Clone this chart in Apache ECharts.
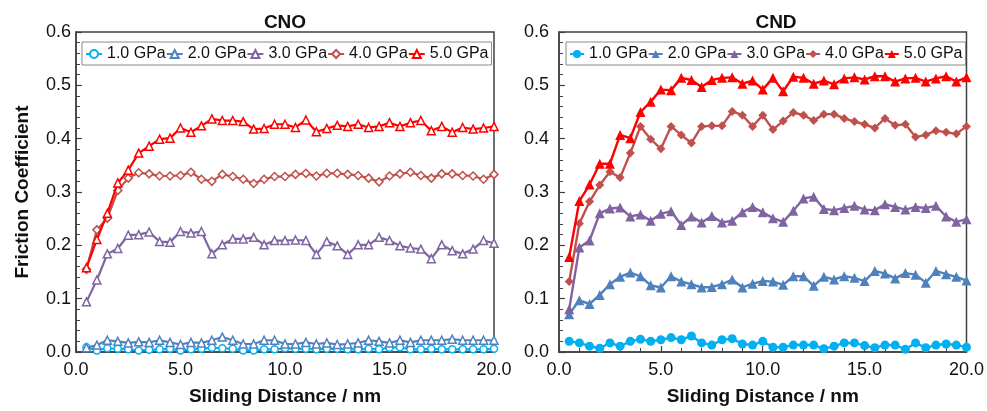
<!DOCTYPE html>
<html>
<head>
<meta charset="utf-8">
<script src="https://cdn.jsdelivr.net/npm/echarts@6/dist/echarts.min.js"></script>
<style>
  html, body { margin: 0; padding: 0; background: #fff; }
  #chart { width: 987px; height: 411px; }
</style>
</head>
<body>
<div id="chart"></div>
<script>
// Sliding distance (nm): 0.5 nm steps up to 20 nm
const distance = [0.5,1.0,1.5,2.0,2.5,3.0,3.5,4.0,4.5,5.0,5.5,6.0,6.5,7.0,7.5,8.0,8.5,9.0,9.5,10.0,
                  10.5,11.0,11.5,12.0,12.5,13.0,13.5,14.0,14.5,15.0,15.5,16.0,16.5,17.0,17.5,18.0,18.5,19.0,19.5,20.0];

const pressures = ['1.0 GPa', '2.0 GPa', '3.0 GPa', '4.0 GPa', '5.0 GPa'];

// Friction coefficient, CNO
const cno_1 = [0.009,0.003,0.007,0.006,0.005,0.003,0.004,0.005,0.006,0.003,0.005,0.006,0.008,0.007,0.006,0.003,0.003,0.005,0.005,0.007,
               0.006,0.006,0.005,0.006,0.006,0.005,0.005,0.006,0.005,0.008,0.009,0.005,0.005,0.006,0.005,0.005,0.005,0.005,0.005,0.006];
const cno_2 = [0.008,0.013,0.022,0.020,0.017,0.019,0.018,0.022,0.018,0.014,0.018,0.017,0.022,0.028,0.022,0.015,0.015,0.022,0.022,0.015,
               0.015,0.018,0.015,0.017,0.014,0.015,0.017,0.022,0.020,0.017,0.022,0.018,0.022,0.022,0.022,0.024,0.022,0.022,0.022,0.022];
const cno_3 = [0.094,0.135,0.184,0.194,0.219,0.220,0.225,0.207,0.206,0.226,0.223,0.226,0.184,0.201,0.212,0.212,0.215,0.201,0.209,0.209,
               0.210,0.209,0.183,0.207,0.199,0.183,0.201,0.201,0.215,0.209,0.199,0.195,0.193,0.175,0.201,0.190,0.184,0.193,0.209,0.204];
const cno_4 = [0.155,0.229,0.251,0.303,0.326,0.336,0.334,0.330,0.330,0.331,0.337,0.324,0.320,0.333,0.329,0.324,0.316,0.324,0.329,0.329,
               0.333,0.335,0.330,0.335,0.335,0.333,0.331,0.326,0.319,0.330,0.334,0.337,0.331,0.326,0.334,0.334,0.331,0.330,0.324,0.333];
const cno_5 = [0.158,0.211,0.260,0.317,0.341,0.373,0.386,0.399,0.401,0.420,0.412,0.424,0.437,0.434,0.434,0.432,0.418,0.419,0.427,0.427,
               0.421,0.435,0.413,0.419,0.425,0.423,0.427,0.421,0.423,0.430,0.423,0.430,0.434,0.415,0.423,0.412,0.421,0.418,0.420,0.423];

// Friction coefficient, CND
const cnd_1 = [0.020,0.017,0.011,0.007,0.017,0.011,0.020,0.024,0.020,0.023,0.027,0.023,0.030,0.017,0.013,0.023,0.025,0.015,0.013,0.020,
               0.009,0.009,0.013,0.013,0.013,0.006,0.011,0.017,0.017,0.012,0.008,0.013,0.013,0.005,0.017,0.008,0.013,0.015,0.013,0.009];
const cnd_2 = [0.071,0.097,0.090,0.107,0.127,0.141,0.149,0.142,0.125,0.121,0.142,0.132,0.127,0.121,0.122,0.127,0.136,0.121,0.128,0.133,
               0.132,0.126,0.142,0.142,0.124,0.141,0.136,0.142,0.139,0.133,0.152,0.147,0.138,0.148,0.145,0.130,0.152,0.146,0.141,0.134];
const cnd_3 = [0.080,0.196,0.209,0.260,0.269,0.271,0.254,0.258,0.246,0.259,0.264,0.238,0.254,0.243,0.255,0.243,0.246,0.262,0.272,0.262,
               0.251,0.244,0.265,0.288,0.291,0.268,0.266,0.270,0.274,0.267,0.266,0.277,0.272,0.267,0.272,0.270,0.274,0.254,0.244,0.249];
const cnd_4 = [0.132,0.241,0.282,0.313,0.338,0.327,0.373,0.423,0.399,0.381,0.423,0.407,0.392,0.423,0.424,0.424,0.451,0.444,0.423,0.444,
               0.417,0.433,0.449,0.444,0.434,0.446,0.446,0.438,0.432,0.427,0.420,0.438,0.425,0.427,0.403,0.407,0.415,0.412,0.409,0.423];
const cnd_5 = [0.178,0.283,0.314,0.353,0.353,0.407,0.401,0.450,0.469,0.492,0.491,0.514,0.510,0.497,0.510,0.514,0.515,0.503,0.509,0.492,
               0.514,0.489,0.516,0.514,0.503,0.509,0.502,0.513,0.515,0.511,0.517,0.517,0.507,0.513,0.514,0.507,0.513,0.517,0.507,0.515];

const cnoData = [cno_1, cno_2, cno_3, cno_4, cno_5];
const cndData = [cnd_1, cnd_2, cnd_3, cnd_4, cnd_5];

const xTicks = [0, 5, 10, 15, 20];
const yTicks = [0, 0.1, 0.2, 0.3, 0.4, 0.5, 0.6];

const colors = ['#00B0F0', '#4F81BD', '#8064A2', '#C0504D', '#FF0000'];
const shapes = ['circle', 'triangle', 'triangle', 'diamond', 'triangle'];

const FONT = '"Liberation Sans", Arial, sans-serif';
const AXIS_COLOR = '#404040';

const grids = [
  { left: 76, top: 32, width: 418, height: 323 },
  { left: 559, top: 32, width: 413, height: 323 }
];

function xAxisFor(gridIndex) {
  return {
    type: 'value', gridIndex,
    min: xTicks[0], max: xTicks[xTicks.length - 1], interval: xTicks[1] - xTicks[0],
    name: 'Sliding Distance / nm', nameLocation: 'middle', nameGap: 35,
    nameTextStyle: { fontFamily: FONT, fontSize: 19, fontWeight: 'bold', color: '#111' },
    axisLine: { lineStyle: { color: AXIS_COLOR, width: 1.5 } },
    axisTick: { inside: true, length: 6, lineStyle: { color: AXIS_COLOR, width: 1.2 } },
    minorTick: { show: true, splitNumber: 5, length: 4, lineStyle: { color: AXIS_COLOR, width: 1 } },
    axisLabel: { fontFamily: FONT, fontSize: 18, color: '#111', margin: 9,
                 formatter: v => v.toFixed(1) },
    splitLine: { show: false }
  };
}

function yAxisFor(gridIndex, withName, margin) {
  return {
    type: 'value', gridIndex,
    min: yTicks[0], max: yTicks[yTicks.length - 1], interval: 0.1,
    name: withName ? 'Friction Coefficient' : '', nameLocation: 'middle', nameGap: 44,
    nameTextStyle: { fontFamily: FONT, fontSize: 19, fontWeight: 'bold', color: '#111' },
    axisLine: { show: true, lineStyle: { color: AXIS_COLOR, width: 1.5 } },
    axisTick: { show: true, inside: true, length: 6, lineStyle: { color: AXIS_COLOR, width: 1.2 } },
    minorTick: { show: true, splitNumber: 5, length: 4, lineStyle: { color: AXIS_COLOR, width: 1 } },
    axisLabel: { fontFamily: FONT, fontSize: 18, color: '#111', margin,
                 formatter: v => v.toFixed(1) },
    splitLine: { show: false }
  };
}

function buildSeries(prefix, dataSets, idx, hollow) {
  return dataSets.map((vals, i) => ({
    name: prefix + ' ' + pressures[i],
    type: 'line',
    xAxisIndex: idx, yAxisIndex: idx,
    data: distance.map((d, k) => [d, vals[k]]),
    symbol: shapes[i],
    symbolSize: hollow ? (shapes[i] === 'circle' ? 7 : 8) : (shapes[i] === 'circle' ? 9 : (shapes[i] === 'diamond' ? 9 : 10)),
    showSymbol: true,
    lineStyle: { color: colors[i], width: hollow ? 2.2 : 2.4 },
    itemStyle: hollow
      ? { color: '#fff', borderColor: colors[i], borderWidth: 1.5 }
      : { color: colors[i], borderColor: colors[i], borderWidth: 0 },
    emphasis: { disabled: true },
    animation: false,
    z: 2 + i
  }));
}

function legendFor(prefix, left, itemWidth) {
  return {
    left, top: 42,
    orient: 'horizontal',
    data: pressures.map(p => prefix + ' ' + p),
    formatter: n => n.slice(prefix.length + 1),
    itemWidth, itemHeight: 10, itemGap: 0,
    padding: [4, 3, 3, 3],
    borderColor: '#8a8a8a', borderWidth: 1, backgroundColor: '#fff',
    textStyle: { fontFamily: FONT, fontSize: 16, color: '#111' },
    selectedMode: false
  };
}

const chart = echarts.init(document.getElementById('chart'), null, { renderer: 'canvas' });

chart.setOption({
  animation: false,
  backgroundColor: '#fff',
  title: [
    { text: 'CNO', left: 280, top: 8, textAlign: 'center',
      textStyle: { fontFamily: FONT, fontSize: 19, fontWeight: 'bold', color: '#111' } },
    { text: 'CND', left: 771, top: 8, textAlign: 'center',
      textStyle: { fontFamily: FONT, fontSize: 19, fontWeight: 'bold', color: '#111' } }
  ],
  legend: [legendFor('CNO', 82, 16), legendFor('CND', 566, 14)],
  grid: grids.map(g => Object.assign({ show: true, borderColor: AXIS_COLOR, borderWidth: 1.5,
                                       backgroundColor: 'transparent' }, g)),
  xAxis: [xAxisFor(0), xAxisFor(1)],
  yAxis: [yAxisFor(0, true, 5), yAxisFor(1, false, 10)],
  series: [].concat(buildSeries('CNO', cnoData, 0, true), buildSeries('CND', cndData, 1, false))
});
</script>
</body>
</html>
